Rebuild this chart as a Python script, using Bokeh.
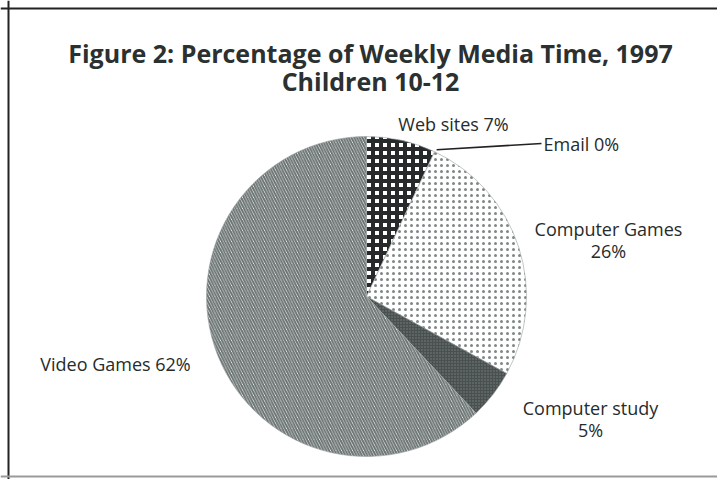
import math
from bokeh.plotting import figure
from bokeh.models import Range1d, Span
from bokeh.core.properties import value
from bokeh.embed import file_html
from bokeh.resources import INLINE

# ---- data ----
categories = ["Web sites", "Email", "Computer Games", "Computer study", "Video Games"]
percent = [7, 0, 26, 5, 62]
label_lines = [["Web sites 7%"], ["Email 0%"], ["Computer Games", "26%"],
               ["Computer study", "5%"], ["Video Games 62%"]]
title_lines = ["Figure 2: Percentage of Weekly Media Time, 1997", "Children 10-12"]

# ---- styles ----
fills = ["white", "white", "white", "#4a5050", "white"]
hatch_patterns = ["+", " ", ".", ".", "\\"]
hatch_colors = ["#262a2a", "white", "#7f8686", "#7a8282", "#6a7272"]
hatch_scales = [8, 6, 6, 3, 5.5]
hatch_weights = [4, 1, 1.8, 1, 2]

W, H = 717, 479


def px(x):
    return x


def py(y):
    return H - y


p = figure(width=W, height=H, output_backend="svg", toolbar_location=None,
           x_range=Range1d(0, W), y_range=Range1d(0, H),
           min_border=0, min_border_left=0, min_border_right=0,
           min_border_top=0, min_border_bottom=0)
p.axis.visible = False
p.grid.visible = False
p.outline_line_color = None
p.background_fill_color = "white"
p.border_fill_color = "white"

# chart frame (top, left, bottom edges)
p.add_layout(Span(location=py(8), dimension="width", line_color="#222222", line_width=2))
p.add_layout(Span(location=px(8), dimension="height", line_color="#222222", line_width=2))
p.add_layout(Span(location=py(476), dimension="width", line_color="#9a9a9a", line_width=2))

cx, cy, r = px(366), py(296), 160

total = float(sum(percent))
starts, ends = [], []
cum = 0.0
for v in percent:
    a0 = math.pi / 2 - 2 * math.pi * cum / total
    cum += v
    a1 = math.pi / 2 - 2 * math.pi * cum / total
    starts.append(a0)
    ends.append(a1)

for i, cat in enumerate(categories):
    if percent[i] <= 0:
        continue
    p.wedge(x=cx, y=cy, radius=r, start_angle=starts[i], end_angle=ends[i],
            direction="clock", fill_color=fills[i], line_color="#9aa0a0",
            line_width=0.6, hatch_pattern=hatch_patterns[i],
            hatch_color=hatch_colors[i], hatch_scale=hatch_scales[i],
            hatch_weight=hatch_weights[i])

# leader line for Email 0%
ea = starts[1]
p.line(x=[cx + r * math.cos(ea) + 2, px(541)], y=[cy + r * math.sin(ea) + 2, py(143)],
       line_color="#222222", line_width=1.6)

font = value("Open Sans")
# title
p.text(x=[px(370)], y=[py(52)], text=[title_lines[0]], text_font=font,
       text_font_size="25px", text_font_style="bold", text_color="#2b3030",
       text_align="center", text_baseline="middle")
p.text(x=[px(370)], y=[py(80)], text=[title_lines[1]], text_font=font,
       text_font_size="25px", text_font_style="bold", text_color="#2b3030",
       text_align="center", text_baseline="middle")

# slice labels
label_pos = [(453, [123], "center"), (543, [143], "left"), (608, [228, 250], "center"),
             (590, [407, 429], "center"), (115, [363], "center")]
for lines, (lx, lys, al) in zip(label_lines, label_pos):
    for t, ly in zip(lines, lys):
        p.text(x=[px(lx)], y=[py(ly)], text=[t], text_font=font,
               text_font_size="18px", text_color="#262b2b",
               text_align=al, text_baseline="middle")

open("out.html", "w").write(file_html(p, INLINE))
